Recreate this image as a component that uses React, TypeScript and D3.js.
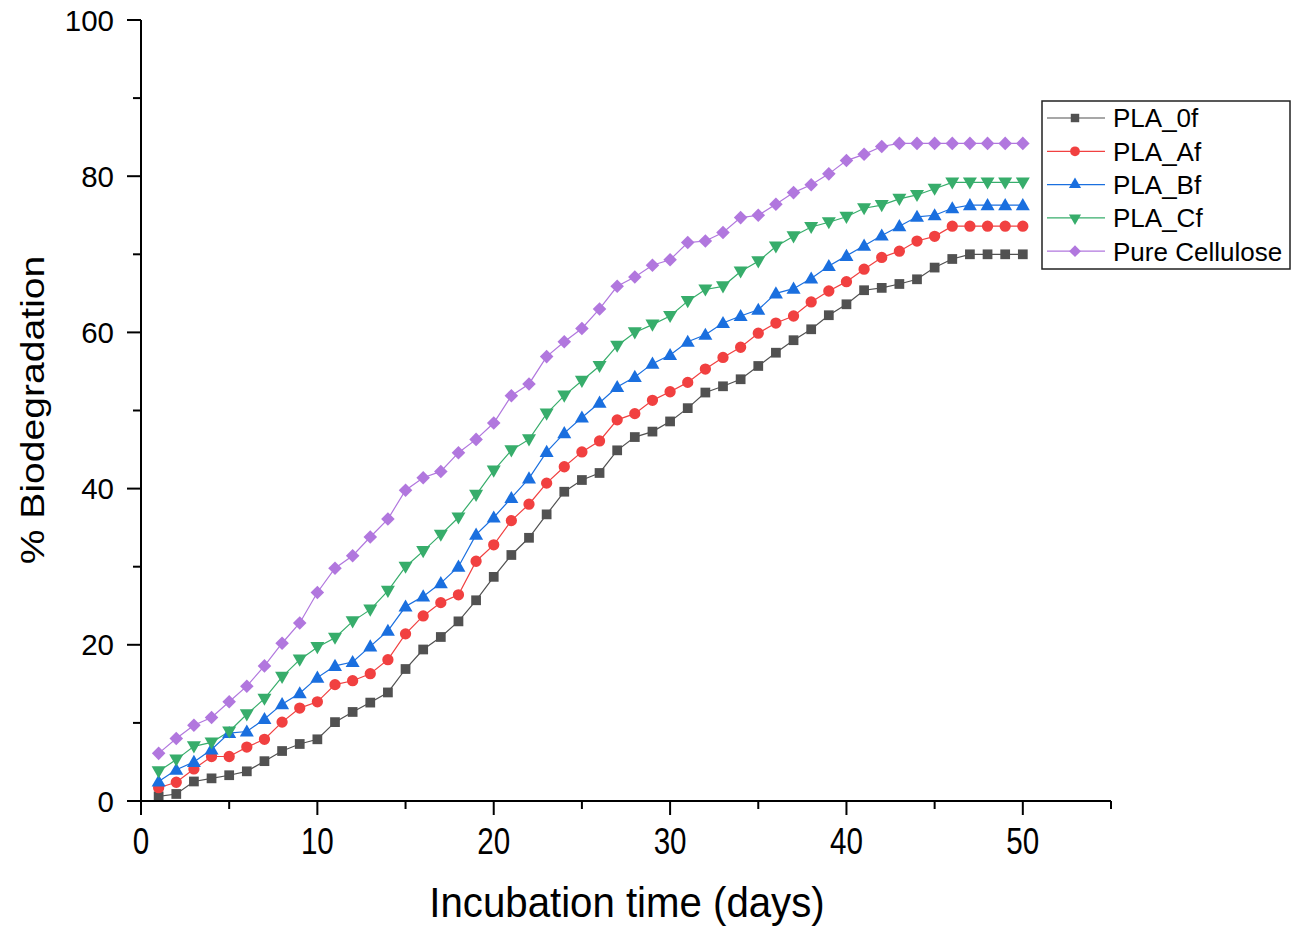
import React, { useEffect, useRef } from "react";
import * as d3 from "d3";

// incubation days 1..50
const days = d3.range(1, 51);

const pla0f = [0.6, 0.9, 2.5, 2.9, 3.3, 3.8, 5.1, 6.4, 7.3, 7.9, 10.1, 11.4, 12.6, 13.9, 16.9, 19.4, 21.0, 23.0, 25.7, 28.7,
  31.5, 33.7, 36.7, 39.6, 41.1, 42.0, 44.9, 46.6, 47.3, 48.6, 50.3, 52.3, 53.1, 54.0, 55.7, 57.4, 59.0, 60.4, 62.2, 63.6,
  65.4, 65.7, 66.2, 66.8, 68.3, 69.4, 70.0, 70.0, 70.0, 70.0];
const plaAf = [1.7, 2.4, 4.1, 5.7, 5.7, 6.9, 7.9, 10.1, 11.9, 12.7, 14.9, 15.4, 16.3, 18.1, 21.4, 23.7, 25.4, 26.4, 30.7, 32.8,
  35.9, 38.0, 40.7, 42.8, 44.7, 46.1, 48.8, 49.6, 51.3, 52.4, 53.6, 55.3, 56.8, 58.1, 59.9, 61.2, 62.1, 63.9, 65.3, 66.5,
  68.1, 69.6, 70.4, 71.7, 72.3, 73.6, 73.6, 73.6, 73.6, 73.6];
const plaBf = [2.5, 4.0, 5.0, 6.6, 8.7, 8.9, 10.5, 12.4, 13.8, 15.8, 17.3, 17.8, 19.8, 21.8, 24.9, 26.2, 27.9, 30.0, 34.1, 36.3,
  38.8, 41.3, 44.7, 47.1, 49.1, 51.0, 53.0, 54.3, 56.0, 57.1, 58.8, 59.7, 61.2, 62.1, 62.9, 65.0, 65.6, 66.9, 68.5, 69.8,
  71.1, 72.4, 73.6, 74.8, 75.0, 75.9, 76.3, 76.3, 76.3, 76.3];
const plaCf = [3.8, 5.3, 7.0, 7.5, 8.9, 11.1, 13.1, 15.9, 18.1, 19.7, 20.9, 23.0, 24.5, 26.9, 30.0, 32.0, 34.1, 36.3, 39.2, 42.3,
  44.9, 46.3, 49.6, 51.9, 53.8, 55.7, 58.3, 60.0, 61.0, 62.1, 64.0, 65.5, 65.9, 67.8, 69.1, 71.0, 72.3, 73.5, 74.1, 74.8,
  75.9, 76.3, 77.1, 77.6, 78.4, 79.2, 79.2, 79.2, 79.2, 79.2];
const cellulose = [6.1, 8.0, 9.7, 10.7, 12.7, 14.7, 17.3, 20.2, 22.8, 26.7, 29.8, 31.4, 33.8, 36.1, 39.8, 41.4, 42.2, 44.6, 46.3, 48.4,
  51.9, 53.4, 56.9, 58.8, 60.5, 63.0, 65.9, 67.1, 68.6, 69.3, 71.5, 71.7, 72.8, 74.7, 75.0, 76.4, 77.9, 78.9, 80.3, 82.0,
  82.8, 83.8, 84.2, 84.2, 84.2, 84.2, 84.2, 84.2, 84.2, 84.2];

const seriesNames = ["PLA_0f", "PLA_Af", "PLA_Bf", "PLA_Cf", "Pure Cellulose"];
const seriesValues = [pla0f, plaAf, plaBf, plaCf, cellulose];
const colors = ["#515151", "#F14040", "#1A6FDF", "#37AD6B", "#B177DE"];

const xTicks = [0, 10, 20, 30, 40, 50];
const yTicks = [0, 20, 40, 60, 80, 100];

export default function App() {
  const ref = useRef<SVGSVGElement>(null);

  useEffect(() => {
    const svg = d3.select(ref.current);
    svg.selectAll("*").remove();

    const x = d3.scaleLinear().domain([0, 55]).range([141, 1111]);
    const y = d3.scaleLinear().domain([0, 100]).range([801, 20]);

    // marker shapes per series
    const markers = [
      { type: d3.symbolSquare, size: 95, rot: 0 },
      { type: d3.symbolCircle, size: 100, rot: 0 },
      { type: d3.symbolTriangle, size: 85, rot: 0 },
      { type: d3.symbolTriangle, size: 85, rot: 180 },
      { type: d3.symbolSquare, size: 92, rot: 45 },
    ];

    const line = d3.line<number>()
      .x((d, i) => x(days[i]))
      .y(d => y(d));

    const plot = svg.append("g");
    seriesValues.forEach((vals, si) => {
      plot.append("path")
        .attr("d", line(vals))
        .attr("fill", "none")
        .attr("stroke", colors[si])
        .attr("stroke-width", 1.2);
    });
    seriesValues.forEach((vals, si) => {
      const m = markers[si];
      const sym = d3.symbol().type(m.type).size(m.size);
      plot.append("g").selectAll("path")
        .data(vals)
        .join("path")
        .attr("d", sym)
        .attr("transform", (d, i) => `translate(${x(days[i])},${y(d) + (m.rot === 180 ? -1 : m.type === d3.symbolTriangle ? 1 : 0)}) rotate(${m.rot})`)
        .attr("fill", colors[si]);
    });

    // axes
    const ax = svg.append("g").attr("stroke", "#000").attr("stroke-width", 2);
    ax.append("line").attr("x1", x(0)).attr("x2", x(55)).attr("y1", y(0)).attr("y2", y(0));
    ax.append("line").attr("x1", x(0)).attr("x2", x(0)).attr("y1", y(0) + 1).attr("y2", y(100));

    d3.range(0, 56, 5).forEach(v => {
      const major = v % 10 === 0;
      ax.append("line").attr("x1", x(v)).attr("x2", x(v))
        .attr("y1", y(0)).attr("y2", y(0) + (major ? 14 : 8));
    });
    d3.range(0, 101, 10).forEach(v => {
      const major = v % 20 === 0;
      ax.append("line").attr("y1", y(v)).attr("y2", y(v))
        .attr("x1", x(0)).attr("x2", x(0) - (major ? 14 : 8));
    });

    const font = "Liberation Sans, Arial, sans-serif";
    svg.append("g").selectAll("text")
      .data(yTicks)
      .join("text")
      .attr("x", 114)
      .attr("y", d => y(d))
      .attr("dy", "0.36em")
      .attr("text-anchor", "end")
      .attr("font-family", font)
      .attr("font-size", 29.5)
      .text(d => d);

    svg.append("g").selectAll("text")
      .data(xTicks)
      .join("text")
      .attr("transform", d => `translate(${x(d)},854) scale(0.8,1)`)
      .attr("text-anchor", "middle")
      .attr("font-family", font)
      .attr("font-size", 37)
      .text(d => d);

    svg.append("text")
      .attr("transform", "translate(627,917) scale(0.935,1)")
      .attr("text-anchor", "middle")
      .attr("font-family", font)
      .attr("font-size", 43)
      .text("Incubation time (days)");

    svg.append("text")
      .attr("transform", "translate(44,410) rotate(-90) scale(1.15,1)")
      .attr("text-anchor", "middle")
      .attr("font-family", font)
      .attr("font-size", 34)
      .text("% Biodegradation");

    // legend
    const lg = svg.append("g");
    lg.append("rect")
      .attr("x", 1042).attr("y", 101).attr("width", 248).attr("height", 168)
      .attr("fill", "#fff").attr("stroke", "#222").attr("stroke-width", 1.5);
    seriesNames.forEach((name, si) => {
      const cy = 118 + si * 33.3;
      const m = markers[si];
      lg.append("line").attr("x1", 1047).attr("x2", 1105).attr("y1", cy).attr("y2", cy)
        .attr("stroke", colors[si]).attr("stroke-width", 1.2);
      lg.append("path")
        .attr("d", d3.symbol().type(m.type).size(m.size * 0.75)())
        .attr("transform", `translate(1075,${cy}) rotate(${m.rot})`)
        .attr("fill", colors[si]);
      lg.append("text")
        .attr("x", 1113).attr("y", cy).attr("dy", "0.36em")
        .attr("font-family", font).attr("font-size", 26)
        .text(name);
    });
  }, []);

  return (
    <svg ref={ref} width={1300} height={926}
      style={{ position: "absolute", left: 0, top: 0, background: "#fff" }} />
  );
}
